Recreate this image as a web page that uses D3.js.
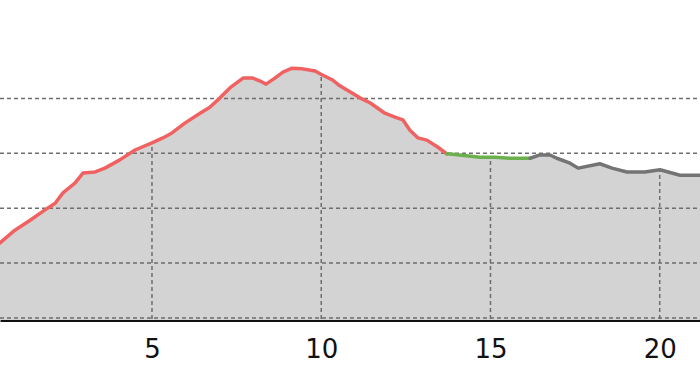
<!DOCTYPE html>
<meta charset="utf-8">
<script src="https://d3js.org/d3.v7.min.js"></script>
<style>
body { margin: 0; background: #fff; }
svg { display: block; }
</style>
<div id="chart"></div>
<script>
// distance (km) and elevation (m)
const km = [0.51, 0.95, 1.40, 1.84, 2.14, 2.37, 2.73, 2.96, 3.32, 3.61, 4.05, 4.50, 5.00, 5.32, 5.59, 5.97,
  6.42, 6.71, 7.01, 7.30, 7.69, 7.98, 8.25, 8.37, 8.63, 8.87, 9.14, 9.43, 9.82, 10.02, 10.32, 10.55,
  10.91, 11.14, 11.44, 11.88, 12.18, 12.41, 12.62, 12.86, 13.12, 13.45, 13.71,
  13.95, 14.69, 15.13, 15.58, 16.17,
  16.46, 16.76, 16.96, 17.35, 17.59, 18.23, 18.59, 19.03, 19.56, 20.01, 20.60, 21.19];
const elev = [137, 160, 178, 197, 209, 228, 246, 264, 266, 273, 288, 306, 319, 328, 337, 355,
  373, 384, 401, 419, 437, 437, 430, 426, 437, 448, 455, 454, 450, 443, 434, 423,
  410, 401, 392, 373, 366, 361, 342, 328, 324, 311, 299,
  298, 293, 293, 291, 291,
  297, 297, 291, 282, 273, 281, 273, 266, 266, 270, 260, 260];
// segment boundaries (km)
const segFrom = [0.51, 13.71, 16.17];
const segTo = [13.71, 16.17, 21.19];
const segColor = ['#f06262', '#6cb04e', '#747474'];
const xTicks = [5, 10, 15, 20];
const yGrid = [0, 100, 200, 300, 400];

const width = 700, height = 373;
const pts = km.map((d, i) => ({km: d, e: elev[i]}));

const x = d3.scaleLinear().domain([0.51, 21.19]).range([0, width]);
const y = d3.scaleLinear().domain([-3.6, 579.2]).range([320, 0]);

const svg = d3.select('#chart').append('svg')
  .attr('width', width).attr('height', height);

const area = d3.area().x(d => x(d.km)).y0(y(-3.6)).y1(d => y(d.e));
const line = d3.line().x(d => x(d.km)).y(d => y(d.e));

svg.append('path').datum(pts).attr('d', area).attr('fill', '#d3d3d3');

// vertical grid only shows inside the filled area
svg.append('clipPath').attr('id', 'areaclip')
  .append('path').datum(pts).attr('d', area);

svg.append('g').attr('clip-path', 'url(#areaclip)')
  .selectAll('line').data(xTicks).join('line')
  .attr('x1', d => x(d)).attr('x2', d => x(d))
  .attr('y1', 0).attr('y2', 320)
  .attr('stroke', '#6e6e6e').attr('stroke-width', 1.5)
  .attr('stroke-dasharray', '4,3');

svg.append('g').selectAll('line').data(yGrid).join('line')
  .attr('x1', 0).attr('x2', width)
  .attr('y1', d => y(d)).attr('y2', d => y(d))
  .attr('stroke', '#6e6e6e').attr('stroke-width', 1.5)
  .attr('stroke-dasharray', '4,3');

segFrom.forEach((f, i) => {
  const seg = pts.filter(p => p.km >= f && p.km <= segTo[i]);
  svg.append('path').datum(seg).attr('d', line)
    .attr('fill', 'none')
    .attr('stroke', segColor[i])
    .attr('stroke-width', 3.5)
    .attr('stroke-linejoin', 'round')
    .attr('stroke-linecap', 'round');
});

const axis = d3.axisBottom(x).tickValues(xTicks).tickSize(0).tickPadding(0)
  .tickFormat(d3.format('d'));
const gx = svg.append('g').attr('transform', 'translate(0,320.5)').call(axis);
gx.select('.domain').attr('stroke', '#111').attr('stroke-width', 2);
gx.selectAll('text')
  .attr('dy', null).attr('y', 37)
  .attr('font-family', 'DejaVu Sans').attr('font-size', 26).attr('fill', '#111');
</script>
